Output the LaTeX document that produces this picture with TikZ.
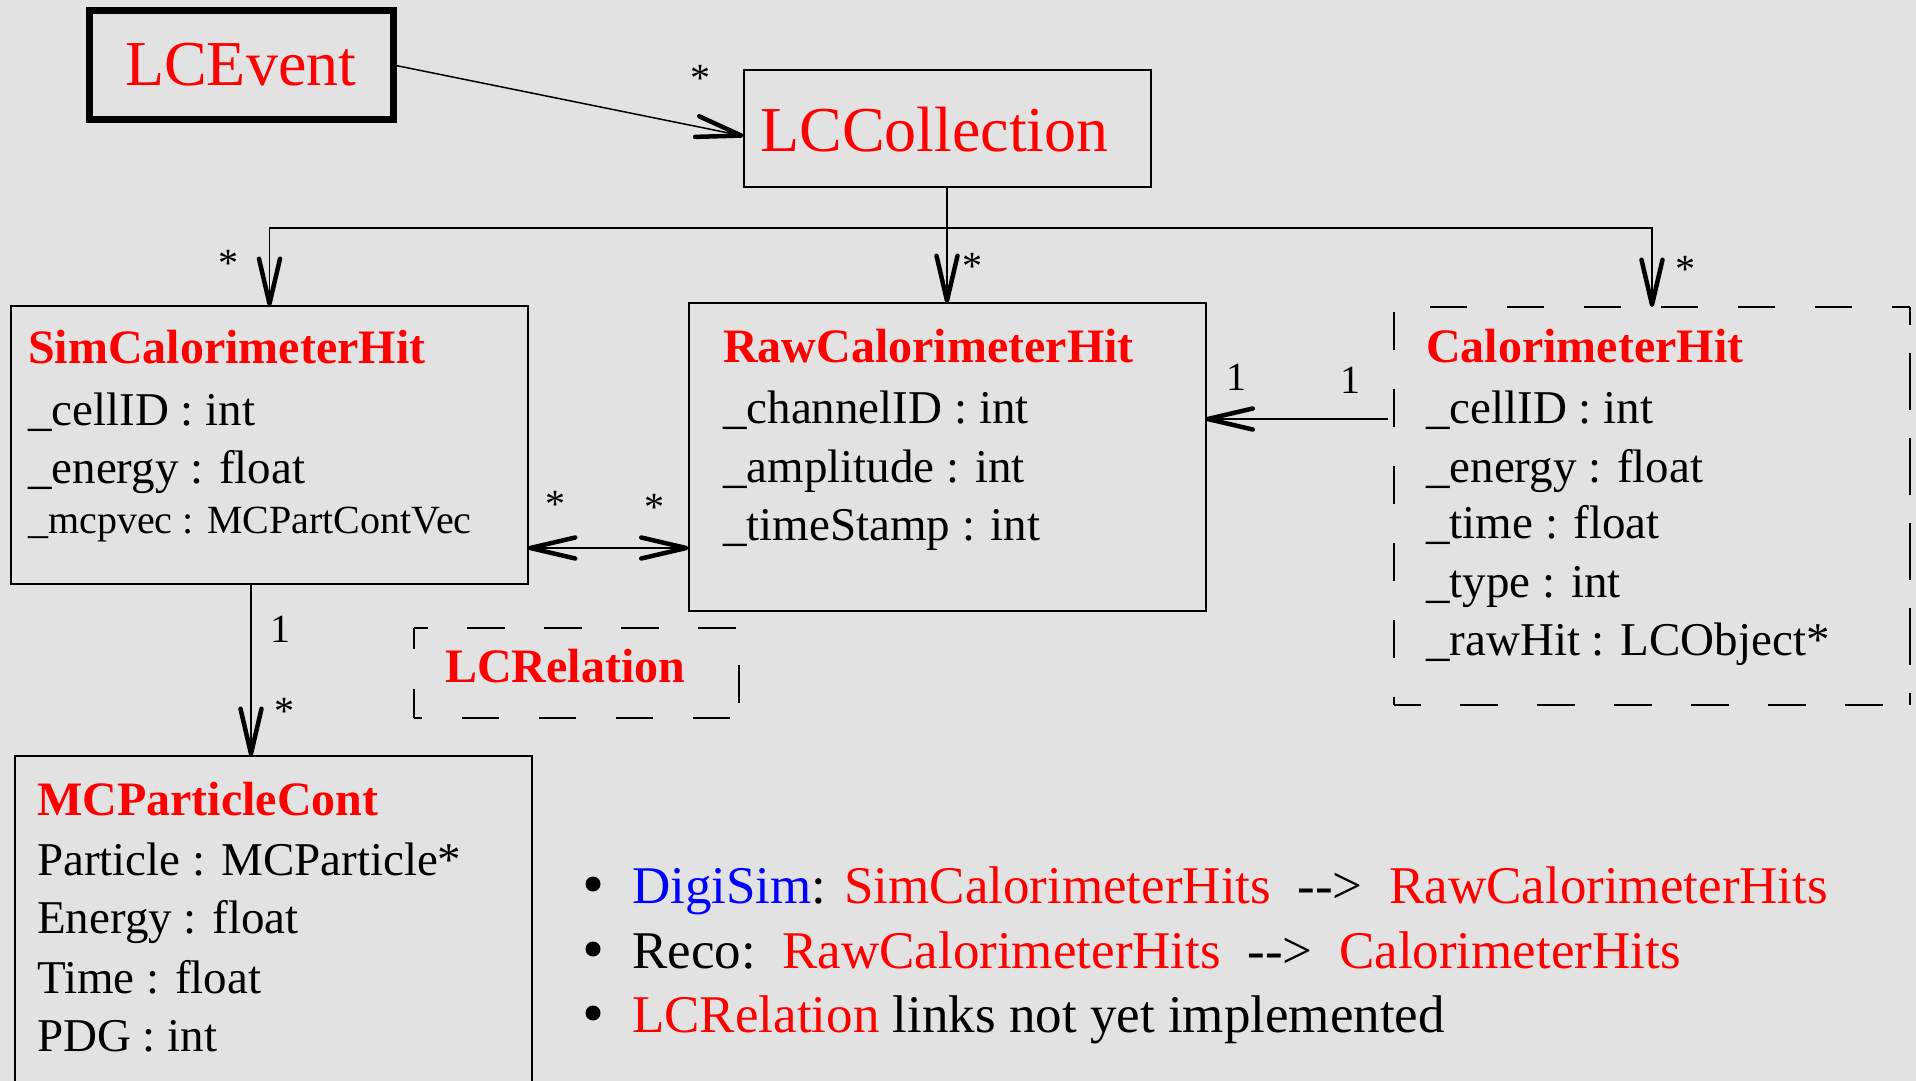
\documentclass[tikz,border=0pt]{standalone}
\usepackage{fontspec}
\setmainfont{Liberation Serif}
\usetikzlibrary{arrows.meta}
\definecolor{bgcol}{RGB}{226,226,226}
\definecolor{umlred}{RGB}{255,0,0}
\definecolor{umlblue}{RGB}{0,0,255}
\begin{document}
\begin{tikzpicture}[x=1pt,y=-1pt,
  umlbarb/.tip={Straight Barb[length=45pt,width=21pt,line width=4.5pt,round]},
  classbox/.style={draw=black,line width=2pt,inner sep=0pt,outer sep=0pt},
  openbox/.style={inner sep=0pt,outer sep=0pt},
  dashside/.style={draw=black,line width=2pt},
  conn/.style={draw=black,line width=1.5pt},
  assoc/.style={conn,-umlbarb},
  biassoc/.style={conn,umlbarb-umlbarb},
  bigname/.style={font=\fontsize{64}{76}\selectfont,text=umlred,anchor=base west,inner sep=0pt},
  ctitle/.style={font=\fontsize{48}{58}\selectfont\bfseries,text=umlred,anchor=base west,inner sep=0pt},
  attr/.style={font=\fontsize{47}{56}\selectfont,anchor=base west,inner sep=0pt},
  smallattr/.style={font=\fontsize{40}{48}\selectfont,anchor=base west,inner sep=0pt},
  mult/.style={font=\fontsize{40}{48}\selectfont,anchor=base,inner sep=0pt},
  bulletdot/.style={circle,fill=black,inner sep=0pt,minimum size=15pt},
  bullettext/.style={font=\fontsize{53}{64}\selectfont,anchor=base west,inner sep=0pt}
]
\useasboundingbox (0,0) rectangle (1916,1081);
\fill[bgcol] (0,0) rectangle (1916,1081);
\clip (0,0) rectangle (1916,1081);

% class boxes
\node[classbox,line width=7pt,minimum width=304pt,minimum height=109pt] (ev) at (241.5,65) {};
\node[classbox,minimum width=407pt,minimum height=117pt] (coll) at (947,128.5) {};
\node[classbox,minimum width=517pt,minimum height=278pt] (sim) at (269.5,445) {};
\node[classbox,minimum width=517pt,minimum height=308pt] (raw) at (947,457) {};
\node[openbox,minimum width=516pt,minimum height=398pt] (calo) at (1652,506) {};
\node[openbox,minimum width=325pt,minimum height=90pt] (rel) at (576.5,673) {};
\node[classbox,minimum width=517pt,minimum height=400pt] (mcp) at (273.5,956) {};

% dashed outlines of the two undrawn boxes, one side at a time
\draw[dashside,dash pattern=on 37pt off 40pt,dash phase=41pt] (calo.north west) -- (calo.north east);
\draw[dashside,dash pattern=on 57pt off 28pt,dash phase=39pt] (calo.north east) -- (calo.south east);
\draw[dashside,dash pattern=on 38pt off 39pt,dash phase=11pt] (calo.south west) -- (calo.south east);
\draw[dashside,dash pattern=on 38pt off 39pt,dash phase=72pt] (calo.north west) -- (calo.south west);
\draw[dashside,dash pattern=on 38pt off 39pt,dash phase=24pt] (rel.north west) -- (rel.north east);
\draw[dashside,dash pattern=on 38pt off 39pt,dash phase=40pt] (rel.north east) -- (rel.south east);
\draw[dashside,dash pattern=on 37pt off 40pt,dash phase=29pt] (rel.south west) -- (rel.south east);
\draw[dashside,dash pattern=on 38pt off 40pt,dash phase=17pt] (rel.north west) -- (rel.south west);

% class names and attributes
\node[bigname] (evname) at (125,85) {LCEvent};
\node[bigname] (collname) at (760,151) {LCCollection};

\node[ctitle] (simname) at (28,363) {SimCalorimeterHit};
\node[attr] (simA) at (28,425) {\_cellID : int};
\node[attr] (simB) at (28,483) {\_energy : float};
\node[smallattr] (simC) at (28,533) {\_mcpvec : MCPartContVec};

\node[ctitle] (rawname) at (723,362) {RawCalorimeterHit};
\node[attr] (rawA) at (723,423) {\_channelID : int};
\node[attr] (rawB) at (723,482) {\_amplitude : int};
\node[attr] (rawC) at (723,540) {\_timeStamp : int};

\node[ctitle] (caloname) at (1426,362) {CalorimeterHit};
\node[attr] (caloA) at (1426,423) {\_cellID : int};
\node[attr] (caloB) at (1426,482) {\_energy : float};
\node[attr] (caloC) at (1426,538) {\_time : float};
\node[attr] (caloD) at (1426,597) {\_type : int};
\node[attr] (caloE) at (1426,655) {\_rawHit : LCObject*};

\node[ctitle] (relname) at (445,682) {LCRelation};

\node[ctitle] (mcpname) at (37,815) {MCParticleCont};
\node[attr] (mcpA) at (37,875) {Particle : MCParticle*};
\node[attr] (mcpB) at (37,933) {Energy : float};
\node[attr] (mcpC) at (37,993) {Time : float};
\node[attr] (mcpD) at (37,1051) {PDG : int};

% connectors
\coordinate (bus) at (947,228);
\coordinate (yCR) at (0,419);
\coordinate (ySR) at (0,548);
\coordinate (xSM) at (251,0);
\draw[assoc,shorten <=1pt] (ev.east) -- ([yshift=-7.5pt]coll.west);
\draw[assoc] (coll.south) -- (raw.north);
\draw[assoc] (bus) -| (sim.north);
\draw[assoc] (bus) -| (calo.north);
\draw[assoc] ([xshift=-6pt]calo.west |- yCR) -- (raw.east |- yCR);
\draw[biassoc] (sim.east |- ySR) -- (raw.west |- ySR);
\draw[assoc] (sim.south -| xSM) -- (mcp.north -| xSM);

% multiplicities
\node[mult] (m1) at (700,92) {*};
\node[mult] (m2) at (228,276) {*};
\node[mult] (m3) at (972,279) {*};
\node[mult] (m4) at (1685,282) {*};
\node[mult] (m5) at (555,517) {*};
\node[mult] (m6) at (654,520) {*};
\node[mult] (m7) at (280,642) {1};
\node[mult] (m8) at (284,724) {*};
\node[mult] (m9) at (1236,390) {1};
\node[mult] (m10) at (1350,393) {1};

% notes
\node[bulletdot] (b1) at (593,884) {};
\node[bulletdot] (b2) at (593,949) {};
\node[bulletdot] (b3) at (593,1013) {};
\node[bullettext] (t1) at (632,903) {\textcolor{umlblue}{DigiSim}: \textcolor{umlred}{SimCalorimeterHits}\ \ -\kern0pt-\kern0pt>\ \ \textcolor{umlred}{RawCalorimeterHits}};
\node[bullettext] (t2) at (632,968) {Reco:\ \ \textcolor{umlred}{RawCalorimeterHits}\ \ -\kern0pt-\kern0pt>\ \ \textcolor{umlred}{CalorimeterHits}};
\node[bullettext] (t3) at (632,1032) {\textcolor{umlred}{LCRelation} links not yet implemented};
\end{tikzpicture}
\end{document}
